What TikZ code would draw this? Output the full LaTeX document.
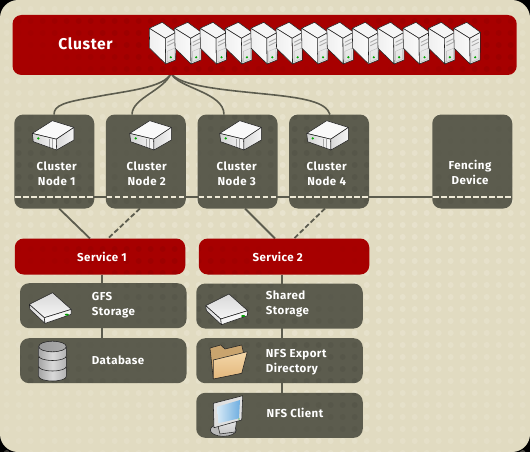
\documentclass[tikz,border=0pt]{standalone}
\usepackage{fontspec}
\setmainfont[LetterSpace=4]{Fira Sans}
\usetikzlibrary{calc,backgrounds}
\definecolor{beige}{HTML}{E1DBC1}
\definecolor{dotc}{HTML}{EAE5D1}
\definecolor{darkbox}{HTML}{5C5C4E}
\definecolor{redbox}{HTML}{A70000}
\definecolor{dashc}{HTML}{EEE9D6}
\definecolor{edgec}{HTML}{222222}
\definecolor{foldback}{HTML}{C9A46E}
\definecolor{foldtop}{HTML}{F3D7A8}
\definecolor{foldbot}{HTML}{E3B77C}
\definecolor{scrtop}{HTML}{6FAEE0}
\definecolor{scrbot}{HTML}{D5E8F5}
\tikzset{
  x=1pt,y=-1pt,
  redbig/.style={fill=redbox,rounded corners=9pt,inner sep=0pt,outer sep=0pt,draw=none},
  redsvc/.style={fill=redbox,rounded corners=9pt,inner sep=0pt,outer sep=0pt,minimum width=170.5pt,minimum height=36pt},
  nodebox/.style={fill=darkbox,rounded corners=9pt,inner sep=0pt,outer sep=0pt,minimum width=80pt,minimum height=94pt},
  itembox/.style={fill=darkbox,rounded corners=9pt,inner sep=0pt,outer sep=0pt,minimum width=166.5pt,minimum height=45pt},
  lbl/.style={text=white,font=\bfseries\fontsize{11.5}{15}\selectfont,align=center,inner sep=0pt},
  lbll/.style={lbl,align=left,anchor=west},
  link/.style={draw=darkbox,line width=1.8pt},
  linkd/.style={link,dash pattern=on 5pt off 2.5pt},
  busdash/.style={draw=dashc,line width=1.3pt,dash pattern=on 5.5pt off 2.5pt},
  ico/.style={draw=edgec,line width=.55pt,line join=round},
  tower/.pic={
    \path[ico,fill=gray!8] (0,6)--(13,0)--(26.7,10)--(16,16)--cycle;
    \path[ico,left color=gray!12,right color=gray!4] (0,6)--(16,16)--(16.4,41.7)--(.4,26)--cycle;
    \path[ico,top color=gray!8,bottom color=gray!25] (16,16)--(26.7,10)--(26.4,37.7)--(16.4,41.7)--cycle;
    \draw[gray!65,line width=.9pt] (18,20)--(25,16.5) (18,23.5)--(25,20);
    \draw[gray!55,line width=.35pt] (18,29)--(25,26)--(25,36.5)--(18,39.5)--cycle;
    \fill[green!65!black] (21.5,35) circle (1.2);
  },
  flatbox/.pic={
    \path[ico,fill=gray!5] (0,12.7)--(20,0)--(41.7,6.7)--(24,18.5)--cycle;
    \path[ico,left color=gray!35,right color=gray!5] (0,12.7)--(24,18.5)--(24.3,29.3)--(1,21)--cycle;
    \path[ico,left color=gray!30,right color=gray!8] (24,18.5)--(41.7,6.7)--(41.7,19.3)--(24.3,29.3)--cycle;
    \draw[gray!70,line width=1.1pt] (17,18)--(17,26) (20,18.5)--(20,27);
    \fill[green!65!black] (6,17.7) circle (1.3);
  },
  disk/.pic={
    \path[ico,top color=gray!30,bottom color=gray!8] (0,11.7)--(23.3,0)--(42,16.7)--(15,25)--cycle;
    \path[ico,left color=gray!30,right color=gray!10] (0,11.7)--(15,25)--(15.7,30.7)--(.7,16.7)--cycle;
    \path[ico,fill=gray!8] (15,25)--(42,16.7)--(41.7,21.7)--(15.7,30.7)--cycle;
    \fill[green!60!black] (37.5,22) ellipse (2 and 1);
  },
}
\begin{document}
\begin{tikzpicture}
\useasboundingbox (0,0) rectangle (530,452);
% boxes
\node[redbig,minimum width=504.2pt,minimum height=60pt] (cluster) at (264.6,45) {};
\node[nodebox] (n1) at (54.25,161.5) {};
\node[nodebox] (n2) at (145.75,161.5) {};
\node[nodebox] (n3) at (237.5,161.5) {};
\node[nodebox] (n4) at (329,161.5) {};
\node[nodebox] (fd) at (472.25,161.5) {};
\node[redsvc] (s1) at (100,256.5) {};
\node[redsvc] (s2) at (284,256.5) {};
\node[itembox] (gfs) at (103.25,305.7) {};
\node[itembox] (db) at (103.25,360.7) {};
\node[itembox] (sh) at (279.5,306) {};
\node[itembox] (ex) at (279.5,360.7) {};
\node[itembox] (cl) at (279.5,415.3) {};
\coordinate (hub) at (171,73);
\coordinate (bus) at (0,197);
\begin{scope}[on background layer]
  \fill[black] (0,0) rectangle (530,452);
  \fill[beige,rounded corners=18pt] (0,0) rectangle (530,452);
  \foreach \i in {0,...,43}{\foreach \j in {0,...,37}{
    \pgfmathsetmacro{\px}{6.7+12*\i}
    \pgfmathsetmacro{\py}{9+12*\j}
    \pgfmathsetmacro{\op}{max(0.1,min(0.9,0.85-0.0011*abs(\py-200)-0.0011*abs(\px-300)))}
    \fill[dotc,opacity=\op] (\px,\py) circle (3);
  }}
  \draw[link,line width=1.6pt] (hub) .. controls (165,88) and (125,91) .. (95,97) .. controls (65,102) and (54,105) .. (n1.north -| 54,0);
  \draw[link,line width=1.6pt] (hub) .. controls (165,90) and (132,98) .. (132,114.5);
  \draw[link,line width=1.6pt] (hub) .. controls (177,88) and (224,92) .. (224,114.5);
  \draw[link,line width=1.6pt] (hub) .. controls (178,86) and (225,90) .. (265,94) .. controls (305,98) and (326,102) .. (330,114.5);
  \draw[link,line width=1.6pt] (n1.east|-bus) -- (fd.west|-bus);
  \draw[link] ($(n1.south)+(4.8,0)$) -- ($(s1.north)+(-10,0)$);
  \draw[linkd] ($(n2.south)+(-5.8,0)$) -- ($(s1.north)+(8,0)$);
  \draw[link] ($(n3.south)+(7.5,0)$) -- ($(s2.north)+(-9,0)$);
  \draw[linkd] ($(n4.south)+(-4,0)$) -- ($(s2.north)+(10,0)$);
  \draw[link] ($(s1.south)+(2,0)$) -- ($(db.north)+(-1.25,0)$);
  \draw[link] ($(s2.south)+(-2,0)$) -- ($(cl.north)+(2.5,0)$);
\end{scope}
% dark dots on the boxes
\begin{scope}
  \clip[rounded corners=9pt]
    (cluster.north west) rectangle (cluster.south east)
    (n1.north west) rectangle (n1.south east)
    (n2.north west) rectangle (n2.south east)
    (n3.north west) rectangle (n3.south east)
    (n4.north west) rectangle (n4.south east)
    (fd.north west) rectangle (fd.south east)
    (s1.north west) rectangle (s1.south east)
    (s2.north west) rectangle (s2.south east)
    (gfs.north west) rectangle (gfs.south east)
    (db.north west) rectangle (db.south east)
    (sh.north west) rectangle (sh.south east)
    (ex.north west) rectangle (ex.south east)
    (cl.north west) rectangle (cl.south east);
  \foreach \i in {0,...,43}{\foreach \j in {0,...,37}{
    \pgfmathsetmacro{\px}{6.7+12*\i}
    \pgfmathsetmacro{\py}{9+12*\j}
    \pgfmathsetmacro{\op}{max(0.005,0.03+0.03*sin(\px*1.1-\py*1.7))}
    \fill[black,opacity=\op] (\px,\py) circle (3);
  }}
\end{scope}
% dashed edges
\foreach \b in {n1,n2,n3,n4,fd}{
  \draw[busdash] ($(\b.west|-bus)+(1,0)$) -- ($(\b.east|-bus)+(-1,0)$);
}
% towers
\foreach \k in {0,...,12}{
  \pic at ({149.3+25.37*\k},22.3) {tower};
}
% flat servers
\pic at (32.3,120.7) {flatbox};
\pic at (129.7,120.7) {flatbox};
\pic at (219.7,120.7) {flatbox};
\pic at (306.7,120.7) {flatbox};
% disks
\pic at (29.3,292.7) {disk};
\pic at (205.7,294) {disk};
% database
\foreach \yy in {367.5,357.5,347}{
  \path[ico,left color=gray!70,right color=gray!60,middle color=gray!30] (38.7,\yy) -- (38.7,{\yy+9}) arc[start angle=180,end angle=0,x radius=13.8,y radius=4.5] -- (66.3,\yy) -- cycle;
}
\path[ico,left color=gray!80,right color=gray!65] (52.5,346.5) ellipse (13.8 and 5.3);
% folder
\path[ico,fill=foldback] (210,348)--(220.7,345)--(225,349)--(241.7,345)--(243.3,352)--(241.7,373)--(213.3,379)--cycle;
\path[ico,top color=foldtop,bottom color=foldbot] (213.3,360)--(247.3,351.7)--(241.7,373.3)--(213.3,379)--cycle;
% monitor
\path[ico,fill=gray!55] (223.3,430) ellipse (13 and 6.3);
\path[ico,top color=gray!15,bottom color=gray!45] (217,422)--(237,418)--(235,432)--(220,434)--cycle;
\path[ico,fill=gray!25] (213.3,403.3)--(242.7,395.7)--(241.7,420)--(214,427.7)--cycle;
\path[left color=scrbot,right color=scrtop] (217.3,406.7)--(240,400)--(239,418.3)--(218.3,423.3)--cycle;
\fill[green!60!black] (239,419) circle (.6);
% labels
\node[lbl,font=\bfseries\fontsize{15.6}{17}\selectfont] (tc) at (85.5,43.5) {Cluster};
\node[lbl] (t1) at (56.7,173.5) {Cluster\\Node 1};
\node[lbl] (t2) at (146.7,173.5) {Cluster\\Node 2};
\node[lbl] (t3) at (236.7,173.5) {Cluster\\Node 3};
\node[lbl] (t4) at (326.7,173.5) {Cluster\\Node 4};
\node[lbl] (t5) at (470,172.2) {Fencing\\Device};
\node[lbl] (ts1) at (102,256.7) {Service 1};
\node[lbl] (ts2) at (277.7,256.7) {Service 2};
\node[lbll] (t6) at (91.7,305.3) {GFS\\Storage};
\node[lbll] (t7) at (91.7,360) {Database};
\node[lbll] (t8) at (265.7,304.3) {Shared\\Storage};
\node[lbll] (t9) at (265.7,362.5) {NFS Export\\Directory};
\node[lbll] (t10) at (266.5,412.7) {NFS Client};
\end{tikzpicture}
\end{document}
